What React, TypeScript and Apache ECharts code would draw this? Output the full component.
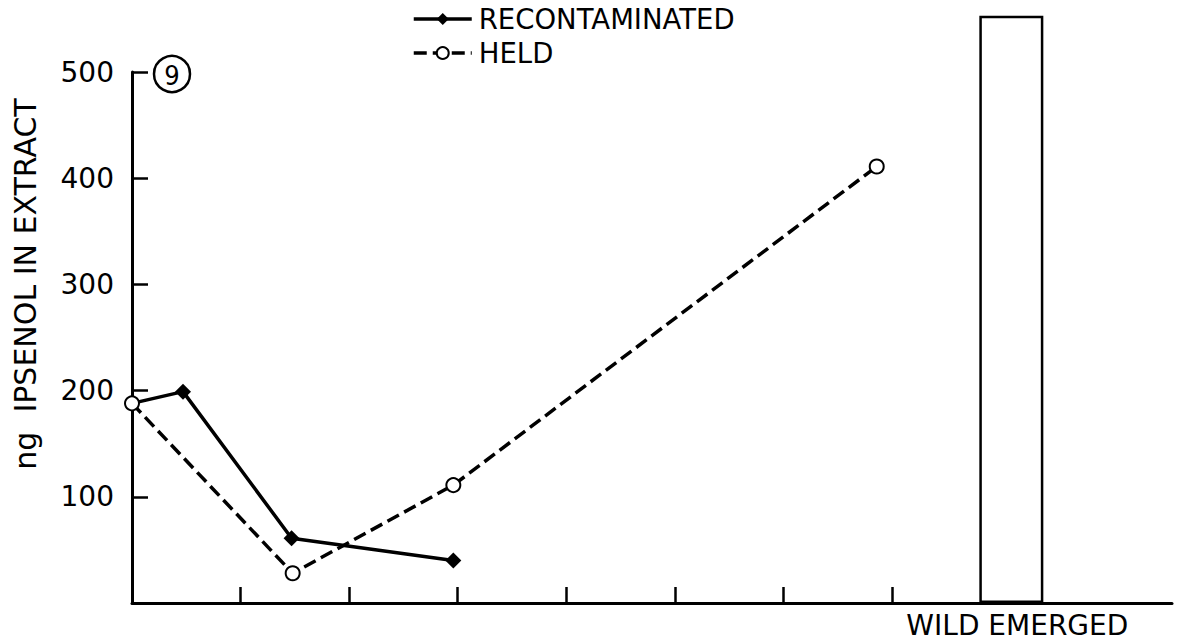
import React, { useEffect, useRef } from "react";
import * as echarts from "echarts";

// Positions along the time axis (tick units) and ipsenol amounts (ng)
const recontaminatedX = [0, 0.47, 1.47, 2.96];
const recontaminatedY = [188, 199, 61, 40];
const heldX = [0, 1.48, 2.96, 6.86];
const heldY = [188, 28, 111, 411];

// Wild emerged beetles, drawn as a single open bar
const wildX = [8.1];
const wildY = [553];
const wildLabel = "WILD EMERGED";

const seriesNames = ["RECONTAMINATED", "HELD"];
const xTicks = [1, 2, 3, 4, 5, 6, 7];
const yTicks = [100, 200, 300, 400, 500];
const yTitle = "ng  IPSENOL IN EXTRACT";
const panelTag = "9";

const FONT = "'DejaVu Sans', 'Liberation Sans', Arial, sans-serif";
const INK = "#000";

export default function App() {
  const ref = useRef<HTMLDivElement>(null);

  useEffect(() => {
    if (!ref.current) return;
    const chart = echarts.init(ref.current, undefined, { renderer: "svg" });

    const recontaminatedData = recontaminatedX.map((x, i) =>
      i === 0
        ? { value: [x, recontaminatedY[i]], symbol: "none" }
        : { value: [x, recontaminatedY[i]] }
    );
    const heldData = heldX.map((x, i) => [x, heldY[i]]);
    const wildData = wildX.map((x, i) => [x, wildY[i]]);

    chart.setOption({
      animation: false,
      backgroundColor: "#fff",
      grid: { left: 132, right: 8, top: 72, bottom: 39, containLabel: false },
      legend: {
        data: seriesNames,
        orient: "vertical",
        left: 407,
        top: 0,
        itemWidth: 58,
        itemHeight: 15,
        itemGap: 6,
        lineStyle: { width: 3.5 },
        textStyle: { fontSize: 27.5, color: INK, fontFamily: FONT, padding: [0, 0, 0, 2] },
      },
      xAxis: {
        type: "value",
        min: 0,
        max: 9.58,
        splitLine: { show: false },
        axisLine: { show: true, lineStyle: { color: INK, width: 3 } },
        axisTick: {
          show: true,
          inside: true,
          length: 16,
          customValues: xTicks,
          lineStyle: { color: INK, width: 2.5 },
        },
        axisLabel: {
          show: true,
          customValues: wildX,
          formatter: () => wildLabel,
          fontSize: 28,
          color: INK,
          fontFamily: FONT,
          margin: 8,
          padding: [0, 0, 0, 12],
        },
      },
      yAxis: {
        type: "value",
        min: 0,
        max: 500,
        interval: 100,
        splitLine: { show: false },
        axisLine: { show: true, lineStyle: { color: INK, width: 3 } },
        axisTick: {
          show: true,
          inside: true,
          length: 16,
          lineStyle: { color: INK, width: 2.5 },
        },
        axisLabel: {
          fontSize: 28,
          color: INK,
          fontFamily: FONT,
          margin: 18,
          formatter: (v: number) => (yTicks.includes(v) ? String(v) : ""),
        },
      },
      series: [
        {
          name: seriesNames[0],
          type: "line",
          data: recontaminatedData,
          symbol: "diamond",
          symbolSize: 16,
          itemStyle: { color: INK },
          lineStyle: { color: INK, width: 3.5 },
          z: 4,
        },
        {
          name: seriesNames[1],
          type: "line",
          data: heldData,
          symbol: "circle",
          symbolSize: 14,
          itemStyle: { color: "#fff", borderColor: INK, borderWidth: 2 },
          lineStyle: { color: INK, width: 3.5, type: [13, 6] },
          z: 5,
        },
        {
          name: wildLabel,
          type: "bar",
          data: wildData,
          barWidth: 64,
          clip: false,
          itemStyle: { color: "#fff", borderColor: INK, borderWidth: 2.5 },
          z: 3,
        },
      ],
      graphic: [
        {
          type: "text",
          x: 25,
          y: 284,
          rotation: Math.PI / 2,
          style: {
            text: yTitle,
            font: `30px ${FONT}`,
            fill: INK,
            align: "center",
            verticalAlign: "middle",
          },
        },
        {
          type: "circle",
          shape: { cx: 172, cy: 74, r: 18 },
          style: { fill: "none", stroke: INK, lineWidth: 2.5 },
        },
        {
          type: "text",
          x: 172,
          y: 75,
          style: {
            text: panelTag,
            font: `27px 'Liberation Sans Narrow', 'DejaVu Sans Condensed', sans-serif`,
            fill: INK,
            align: "center",
            verticalAlign: "middle",
          },
        },
      ],
    });

    return () => chart.dispose();
  }, []);

  return (
    <div
      ref={ref}
      style={{ position: "fixed", left: 0, top: 0, width: 1180, height: 642 }}
    />
  );
}
